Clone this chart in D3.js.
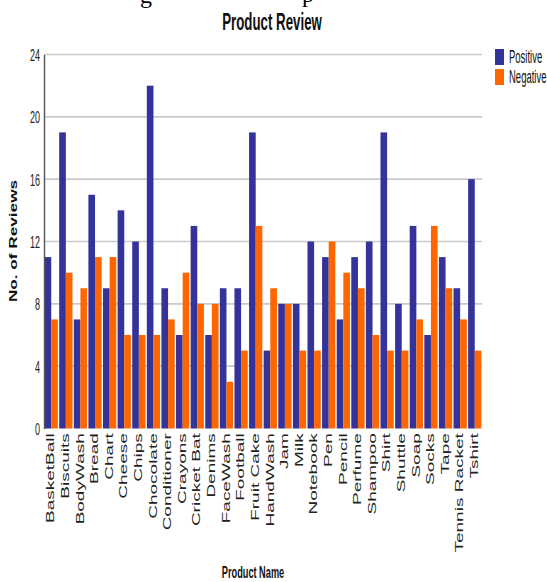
<!DOCTYPE html>
<html>
<head>
<meta charset="utf-8">
<script src="https://cdn.jsdelivr.net/npm/d3@7"></script>
<style>
  html, body { margin: 0; padding: 0; background: #fff; }
  svg { display: block; }
</style>
</head>
<body>
<div id="chart"></div>
<script>
// Product review counts
const products = ["BasketBall", "Biscuits", "BodyWash", "Bread", "Chart", "Cheese", "Chips",
  "Chocolate", "Conditioner", "Crayons", "Cricket Bat", "Denims", "FaceWash", "Football",
  "Fruit Cake", "HandWash", "Jam", "Milk", "Notebook", "Pen", "Pencil", "Perfume", "Shampoo",
  "Shirt", "Shuttle", "Soap", "Socks", "Tape", "Tennis Racket", "Tshirt"];
const positive = [11, 19, 7, 15, 9, 14, 12, 22, 9, 6, 13, 6, 9, 9, 19, 5, 8, 8, 12, 11, 7, 11, 12, 19, 8, 13, 6, 11, 9, 16];
const negative = [7, 10, 9, 11, 11, 6, 6, 6, 7, 10, 8, 8, 3, 5, 13, 9, 8, 5, 5, 12, 10, 9, 6, 5, 5, 7, 13, 9, 7, 5];
const seriesNames = ["Positive", "Negative"];
const yTicks = [0, 4, 8, 12, 16, 20, 24];

const W = 547, H = 582;
const colors = ["#333399", "#ff6600"];
const SY = 1.85; // vertical stretch applied to the lettering
const font = "'Liberation Sans', Arial, sans-serif";

const svg = d3.select("#chart").append("svg").attr("width", W).attr("height", H);

// caption line from the page above, mostly outside the view
const cap = svg.append("g").attr("font-family", "'Liberation Serif', 'DejaVu Serif', serif")
  .attr("font-size", 24).attr("fill", "#000");
cap.append("text").attr("x", 140).attr("y", 3).text("g");
cap.append("text").attr("x", 302).attr("y", 2).text("p");

const plot = { left: 44, right: 482, top: 54.5, bottom: 428.5 };

const rows = products.map((p, i) => ({ name: p, values: [positive[i], negative[i]] }));

const x = d3.scaleBand().domain(products).range([plot.left, plot.right])
  .paddingInner(0.09).paddingOuter(0.04);
const xs = d3.scaleBand().domain(seriesNames).range([0, x.bandwidth()]).padding(0);
const y = d3.scaleLinear().domain([0, 24]).range([plot.bottom, plot.top]);

// horizontal grid lines
svg.append("g").selectAll("line").data(yTicks.filter(t => t > 0)).join("line")
  .attr("x1", plot.left).attr("x2", plot.right)
  .attr("y1", d => y(d)).attr("y2", d => y(d))
  .attr("stroke", "#cacaca").attr("stroke-width", 1.6);

// bars
svg.append("g").selectAll("g").data(rows).join("g")
  .attr("transform", d => `translate(${x(d.name)},0)`)
  .selectAll("rect").data(d => d.values.map((v, k) => ({ s: seriesNames[k], v, k })))
  .join("rect")
  .attr("x", d => xs(d.s)).attr("width", xs.bandwidth())
  .attr("y", d => y(d.v)).attr("height", d => y(0) - y(d.v))
  .attr("fill", d => colors[d.k]);

// y axis
const yAxis = svg.append("g").attr("transform", `translate(${plot.left},0)`)
  .call(d3.axisLeft(y).tickValues(yTicks).tickSize(0).tickPadding(4));
yAxis.select(".domain").attr("stroke", "#555").attr("stroke-width", 1.4);
yAxis.selectAll("text").attr("font-family", font).attr("font-size", 9)
  .attr("fill", "#222").attr("dy", "0.36em")
  .attr("transform", `scale(1,${SY})`);

// x axis
const xAxis = svg.append("g").attr("transform", `translate(0,${plot.bottom})`)
  .call(d3.axisBottom(x).tickSize(0));
xAxis.select(".domain").remove();
xAxis.selectAll("text").attr("font-family", font).attr("font-size", 10)
  .attr("fill", "#222").attr("text-anchor", "end")
  .attr("x", -2.5).attr("y", 3.2).attr("dy", 0)
  .attr("transform", "rotate(-90) scale(1.9,1)");

// title
svg.append("text").attr("transform", `translate(272,30) scale(1,1.78)`)
  .attr("text-anchor", "middle").attr("font-family", font).attr("font-weight", "bold")
  .attr("font-size", 13.3).attr("fill", "#111").text("Product Review");

// axis titles
svg.append("text").attr("transform", `translate(253,578) scale(1,1.85)`)
  .attr("text-anchor", "middle").attr("font-family", font).attr("font-weight", "bold")
  .attr("font-size", 9.2).attr("fill", "#111").text("Product Name");

svg.append("text").attr("transform", `translate(17,241) rotate(-90) scale(1.72,1)`)
  .attr("text-anchor", "middle").attr("font-family", font).attr("font-weight", "bold")
  .attr("font-size", 10).attr("fill", "#111").text("No. of Reviews");

// legend
const legend = svg.append("g").selectAll("g").data(seriesNames).join("g")
  .attr("transform", (d, i) => `translate(495,${49 + i * 20})`);
legend.append("rect").attr("width", 9).attr("height", 16).attr("fill", (d, i) => colors[i]);
legend.append("text").attr("transform", `translate(14,14) scale(1,${SY})`)
  .attr("font-family", font).attr("font-size", 9.5).attr("fill", "#111")
  .text(d => d);
</script>
</body>
</html>
